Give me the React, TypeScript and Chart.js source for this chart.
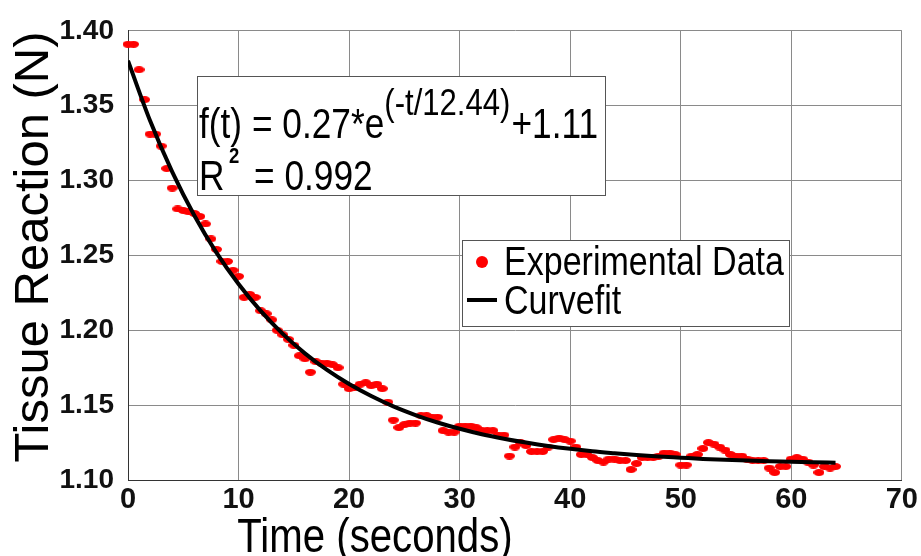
import React, { useEffect, useRef } from "react";
import { Chart, registerables } from "chart.js";

Chart.register(...registerables);

const times = [
  0, 0.5, 1, 1.5, 2, 2.5, 3, 3.5, 4, 4.5, 5, 5.5, 6, 6.5, 7, 7.5, 8, 8.5, 9, 9.5,
  10, 10.5, 11, 11.5, 12, 12.5, 13, 13.5, 14, 14.5, 15, 15.5, 16, 16.5, 17, 17.5, 18, 18.5, 19, 19.5,
  20, 20.5, 21, 21.5, 22, 22.5, 23, 23.5, 24, 24.5, 25, 25.5, 26, 26.5, 27, 27.5, 28, 28.5, 29, 29.5,
  30, 30.5, 31, 31.5, 32, 32.5, 33, 33.5, 34, 34.5, 35, 35.5, 36, 36.5, 37, 37.5, 38, 38.5, 39, 39.5,
  40, 40.5, 41, 41.5, 42, 42.5, 43, 43.5, 44, 44.5, 45, 45.5, 46, 46.5, 47, 47.5, 48, 48.5, 49, 49.5,
  50, 50.5, 51, 51.5, 52, 52.5, 53, 53.5, 54, 54.5, 55, 55.5, 56, 56.5, 57, 57.5, 58, 58.5, 59, 59.5,
  60, 60.5, 61, 61.5, 62, 62.5, 63, 63.5, 64,
];

const reaction = [
  1.391, 1.391, 1.374, 1.354, 1.331, 1.331, 1.323, 1.308, 1.295, 1.281, 1.280, 1.279, 1.278, 1.276, 1.271, 1.261, 1.254, 1.246, 1.246, 1.240,
  1.236, 1.222, 1.224, 1.222, 1.213, 1.211, 1.207, 1.200, 1.197, 1.194, 1.190, 1.183, 1.181, 1.172, 1.179, 1.178, 1.178, 1.177, 1.175, 1.164,
  1.161, 1.162, 1.164, 1.165, 1.163, 1.164, 1.161, 1.152, 1.140, 1.135, 1.137, 1.138, 1.138, 1.143, 1.143, 1.142, 1.142, 1.133, 1.132, 1.132,
  1.136, 1.136, 1.136, 1.135, 1.133, 1.133, 1.133, 1.130, 1.130, 1.116, 1.122, 1.125, 1.123, 1.119, 1.119, 1.119, 1.122, 1.127, 1.128, 1.127,
  1.126, 1.122, 1.117, 1.117, 1.115, 1.113, 1.112, 1.114, 1.114, 1.113, 1.113, 1.107, 1.111, 1.115, 1.115, 1.115, 1.116, 1.118, 1.118, 1.117,
  1.110, 1.110, 1.116, 1.117, 1.121, 1.125, 1.124, 1.122, 1.120, 1.117, 1.116, 1.116, 1.114, 1.113, 1.113, 1.113, 1.108, 1.105, 1.109, 1.109,
  1.114, 1.115, 1.114, 1.112, 1.110, 1.105, 1.109, 1.108, 1.109,
];

const fitTimes = [0, 2, 4, 6, 8, 10, 12, 14, 16, 18, 20, 22, 24, 26, 28, 30, 32, 34, 36, 38, 40, 42, 44, 46, 48, 50, 52, 54, 56, 58, 60, 62, 64];
const fitValues = [
  1.380, 1.3399, 1.3058, 1.2767, 1.2519, 1.2309, 1.2129, 1.1976, 1.1846, 1.1735, 1.1641, 1.1561, 1.1492, 1.1434, 1.1384, 1.1342, 1.1306,
  1.1276, 1.1250, 1.1227, 1.1208, 1.1192, 1.1179, 1.1167, 1.1157, 1.1149, 1.1141, 1.1135, 1.1130, 1.1125, 1.1122, 1.1118, 1.1116,
];

const xTicks = [0, 10, 20, 30, 40, 50, 60, 70];
const yTicks = [1.1, 1.15, 1.2, 1.25, 1.3, 1.35, 1.4];

const FONT = '"Liberation Sans", Arial, sans-serif';
const NARROW = '"Liberation Sans Narrow", "Arial Narrow", "Liberation Sans", sans-serif';

function makeMarker(): HTMLCanvasElement {
  const c = document.createElement("canvas");
  c.width = 11;
  c.height = 7;
  const g = c.getContext("2d")!;
  g.fillStyle = "#ff0000";
  g.beginPath();
  g.ellipse(5.5, 3.5, 5.5, 3.4, 0, 0, Math.PI * 2);
  g.fill();
  return c;
}

// draw horizontally condensed text (Arial-Narrow look)
function condensed(ctx: CanvasRenderingContext2D, text: string, x: number, y: number, k = 0.84) {
  ctx.save();
  ctx.translate(x, y);
  ctx.scale(k, 1);
  ctx.fillText(text, 0, 0);
  ctx.restore();
  return ctx.measureText(text).width * k;
}

const annotations = {
  id: "annotations",
  afterDatasetsDraw(chart: any) {
    const ctx = chart.ctx as CanvasRenderingContext2D;
    ctx.save();
    // Formula box
    ctx.fillStyle = "#ffffff";
    ctx.strokeStyle = "#555555";
    ctx.lineWidth = 1;
    ctx.fillRect(197.5, 76.5, 408, 119);
    ctx.strokeRect(197.5, 76.5, 408, 119);
    ctx.fillStyle = "#000000";
    ctx.textAlign = "left";
    ctx.textBaseline = "alphabetic";
    ctx.font = `42px ${FONT}`;
    const w = condensed(ctx, "f(t) = 0.27*e", 199, 138);
    ctx.font = `37px ${FONT}`;
    const w2 = condensed(ctx, "(-t/12.44)", 199 + w, 115);
    ctx.font = `42px ${FONT}`;
    condensed(ctx, "+1.11", 199 + w + w2 + 1, 138);
    condensed(ctx, "R", 199, 190);
    ctx.font = `bold 22px ${FONT}`;
    condensed(ctx, "2", 229, 163);
    ctx.font = `42px ${FONT}`;
    condensed(ctx, "= 0.992", 254, 190);

    // Legend box
    ctx.fillStyle = "#ffffff";
    ctx.strokeStyle = "#555555";
    ctx.lineWidth = 1;
    ctx.fillRect(462.5, 240.5, 327, 86);
    ctx.strokeRect(462.5, 240.5, 327, 86);
    ctx.fillStyle = "#ff0000";
    ctx.beginPath();
    ctx.arc(482, 262, 6, 0, Math.PI * 2);
    ctx.fill();
    ctx.strokeStyle = "#000000";
    ctx.lineWidth = 4;
    ctx.beginPath();
    ctx.moveTo(467, 300);
    ctx.lineTo(497, 300);
    ctx.stroke();
    ctx.fillStyle = "#000000";
    ctx.font = `41px ${FONT}`;
    condensed(ctx, "Experimental Data", 504, 275, 0.83);
    condensed(ctx, "Curvefit", 504, 314, 0.83);

    // Axis titles
    ctx.font = `49px ${FONT}`;
    ctx.textAlign = "left";
    const tw = ctx.measureText("Time (seconds)").width * 0.82;
    condensed(ctx, "Time (seconds)", 375 - tw / 2, 552, 0.82);
    ctx.save();
    ctx.translate(48, 247);
    ctx.rotate(-Math.PI / 2);
    ctx.font = `49px ${FONT}`;
    ctx.textAlign = "center";
    ctx.fillText("Tissue Reaction (N)", 0, 0);
    ctx.restore();
    ctx.restore();
  },
};

export default function App() {
  const ref = useRef<HTMLCanvasElement>(null);
  useEffect(() => {
    if (!ref.current) return;
    const marker = makeMarker();
    const chart = new Chart(ref.current, {
      type: "scatter",
      data: {
        datasets: [
          {
            label: "Experimental Data",
            data: times.map((t, i) => ({ x: t, y: reaction[i] })),
            backgroundColor: "#ff0000",
            borderWidth: 0,
            pointStyle: marker,
            pointRadius: 4,
            order: 2,
            clip: 8,
          } as any,
          {
            type: "line",
            label: "Curvefit",
            data: fitTimes.map((t, i) => ({ x: t, y: fitValues[i] })),
            borderColor: "#000000",
            borderWidth: 4,
            pointRadius: 0,
            fill: false,
            cubicInterpolationMode: "monotone",
            order: 1,
          } as any,
        ],
      },
      options: {
        responsive: false,
        animation: false,
        events: [],
        layout: { padding: { top: 27, right: 15, left: 0, bottom: 0 } },
        plugins: { legend: { display: false }, tooltip: { enabled: false } },
        scales: {
          x: {
            type: "linear",
            min: 0,
            max: 70,
            afterBuildTicks: (s: any) => {
              s.ticks = xTicks.map((v) => ({ value: v }));
            },
            afterFit: (s: any) => {
              s.height = 76;
            },
            ticks: {
              color: "#111111",
              font: { family: NARROW, size: 29, weight: "bold" },
              padding: 3,
              maxRotation: 0,
            },
            grid: { color: "#8a8a8a", lineWidth: 1, drawTicks: false },
            border: { color: "#333333", width: 1 },
          },
          y: {
            type: "linear",
            min: 1.1,
            max: 1.4,
            afterBuildTicks: (s: any) => {
              s.ticks = yTicks.map((v) => ({ value: v }));
            },
            afterFit: (s: any) => {
              s.width = 128;
            },
            ticks: {
              color: "#111111",
              font: { family: NARROW, size: 28, weight: "bold" },
              padding: 14,
              callback: (v: any) => Number(v).toFixed(2),
            },
            grid: { color: "#8a8a8a", lineWidth: 1, drawTicks: false },
            border: { color: "#333333", width: 1 },
          },
        },
      },
      plugins: [annotations],
    });
    return () => chart.destroy();
  }, []);
  return (
    <div style={{ position: "absolute", left: 0, top: 0, width: 921, height: 556, background: "#fff" }}>
      <canvas ref={ref} width={921} height={556} style={{ display: "block" }} />
    </div>
  );
}
